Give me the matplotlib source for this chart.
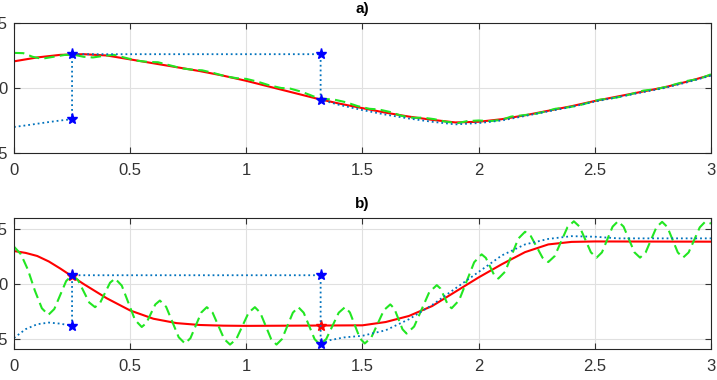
import numpy as np
import matplotlib.pyplot as plt

plt.rcParams['font.family'] = ['Liberation Sans', 'DejaVu Sans']

# ---- panel a) ----
a_x_ref = [0, 0.1, 0.2, 0.3, 0.4, 0.5, 0.6, 0.7, 0.8, 0.9, 1.0, 1.1, 1.2, 1.3, 1.4, 1.5,
           1.6, 1.7, 1.8, 1.9, 2.0, 2.1, 2.2, 2.3, 2.4, 2.5, 2.6, 2.7, 2.8, 2.9, 3.0]
a_y_ref = [0.205, 0.235, 0.255, 0.26, 0.25, 0.22, 0.19, 0.16, 0.13, 0.095, 0.055, 0.01,
           -0.035, -0.08, -0.12, -0.155, -0.19, -0.22, -0.245, -0.265, -0.26, -0.24, -0.21,
           -0.175, -0.14, -0.10, -0.065, -0.03, 0.005, 0.05, 0.10]

a_x_noisy = [0, 0.04, 0.08, 0.12, 0.17, 0.22, 0.26, 0.3, 0.34, 0.39, 0.43, 0.48, 0.53, 0.58,
             0.62, 0.67, 0.72, 0.77, 0.81, 0.86, 0.91, 0.96, 1.0, 1.05, 1.1, 1.15, 1.19, 1.24,
             1.29, 1.34, 1.38, 1.43, 1.48, 1.53, 1.57, 1.62, 1.67, 1.72, 1.76, 1.81, 1.86,
             1.91, 1.95, 2.0, 2.05, 2.1, 2.14, 2.19, 2.24, 2.29, 2.33, 2.38, 2.43, 2.48, 2.52,
             2.57, 2.62, 2.67, 2.71, 2.76, 2.81, 2.86, 2.9, 2.95, 3.0]
a_y_noisy = [0.27, 0.268, 0.24, 0.225, 0.24, 0.255, 0.255, 0.24, 0.235, 0.248, 0.255, 0.232,
             0.21, 0.2, 0.198, 0.175, 0.152, 0.14, 0.136, 0.115, 0.09, 0.075, 0.07, 0.048,
             0.02, 0.0, -0.005, -0.03, -0.065, -0.085, -0.09, -0.11, -0.14, -0.16, -0.165,
             -0.185, -0.215, -0.23, -0.228, -0.24, -0.26, -0.27, -0.255, -0.25, -0.255, -0.245,
             -0.22, -0.21, -0.2, -0.18, -0.16, -0.15, -0.135, -0.11, -0.09, -0.08, -0.065,
             -0.04, -0.02, -0.01, 0.01, 0.035, 0.055, 0.07, 0.105]

a_x_est = [0, 0.05, 0.1, 0.15, 0.2, 0.25, 0.25, 1.32, 1.32, 1.4, 1.5, 1.6, 1.7, 1.8, 1.9,
           2.0, 2.1, 2.2, 2.3, 2.4, 2.5, 2.6, 2.7, 2.8, 2.9, 3.0]
a_y_est = [-0.30, -0.288, -0.275, -0.262, -0.25, -0.24, 0.26, 0.26, -0.09, -0.13, -0.17,
           -0.205, -0.235, -0.26, -0.28, -0.27, -0.25, -0.215, -0.18, -0.145, -0.105,
           -0.07, -0.035, 0.0, 0.045, 0.095]
a_star_idx = [5, 6, 7, 8]

# ---- panel b) ----
b_x_ref = [0, 0.05, 0.1, 0.15, 0.2, 0.25, 0.3, 0.4, 0.5, 0.6, 0.7, 0.8, 0.9, 1.0, 1.5, 1.6,
           1.7, 1.8, 1.9, 2.0, 2.1, 2.2, 2.3, 2.4, 2.5, 3.0]
b_y_ref = [0.30, 0.283, 0.255, 0.205, 0.14, 0.07, 0.0, -0.13, -0.24, -0.315, -0.355, -0.372,
           -0.378, -0.38, -0.375, -0.345, -0.29, -0.20, -0.07, 0.06, 0.18, 0.29, 0.36, 0.383,
           0.387, 0.385]

b_x_noisy = [0, 0.03, 0.06, 0.09, 0.12, 0.148,
             0.1735, 0.199, 0.2245, 0.25,
             0.275, 0.2995, 0.324, 0.349,
             0.3705, 0.392, 0.4135, 0.435,
             0.464, 0.4925, 0.521, 0.55,
             0.5695, 0.589, 0.6085, 0.628,
             0.655, 0.682, 0.709, 0.736,
             0.7595, 0.783, 0.8065, 0.83,
             0.855, 0.88, 0.905, 0.93,
             0.957, 0.9835, 1.010, 1.037,
             1.060, 1.0835, 1.107, 1.13,
             1.1535, 1.177, 1.2005, 1.224,
             1.247, 1.2705, 1.294, 1.317,
             1.344, 1.371, 1.398, 1.425,
             1.446, 1.4675, 1.489, 1.51,
             1.5375, 1.565, 1.5925, 1.62,
             1.6375, 1.655, 1.6725, 1.69,
             1.7225, 1.755, 1.7875, 1.82,
             1.836, 1.852, 1.868, 1.884,
             1.916, 1.9485, 1.981, 2.013,
             2.031, 2.049, 2.067, 2.085,
             2.114, 2.1425, 2.171, 2.20,
             2.225, 2.25, 2.275, 2.30,
             2.3275, 2.355, 2.3825, 2.41,
             2.4345, 2.459, 2.4835, 2.508,
             2.531, 2.554, 2.577, 2.60,
             2.624, 2.6475, 2.671, 2.695,
             2.719, 2.7425, 2.766, 2.79,
             2.8125, 2.835, 2.8575, 2.88,
             2.904, 2.928, 2.952, 2.975, 3.0]
b_y_noisy = [0.34, 0.27, 0.13, -0.06, -0.22, -0.28,
             -0.227, -0.10, 0.027, 0.08,
             0.038, -0.065, -0.168, -0.21,
             -0.172, -0.08, 0.012, 0.05,
             -0.014, -0.17, -0.326, -0.39,
             -0.355, -0.27, -0.185, -0.15,
             -0.207, -0.345, -0.483, -0.54,
             -0.492, -0.375, -0.258, -0.21,
             -0.26, -0.38, -0.50, -0.55,
             -0.50, -0.38, -0.26, -0.21,
             -0.26, -0.38, -0.50, -0.55,
             -0.50, -0.38, -0.26, -0.21,
             -0.26, -0.38, -0.50, -0.55,
             -0.50, -0.38, -0.26, -0.21,
             -0.258, -0.375, -0.492, -0.54,
             -0.488, -0.363, -0.237, -0.185,
             -0.224, -0.318, -0.411, -0.45,
             -0.386, -0.23, -0.074, -0.01,
             -0.041, -0.115, -0.189, -0.22,
             -0.148, 0.025, 0.198, 0.27,
             0.238, 0.16, 0.082, 0.05,
             0.112, 0.263, 0.413, 0.475,
             0.435, 0.338, 0.24, 0.20,
             0.254, 0.385, 0.516, 0.57,
             0.522, 0.405, 0.288, 0.24,
             0.288, 0.405, 0.522, 0.57,
             0.522, 0.405, 0.288, 0.24,
             0.287, 0.403, 0.518, 0.565,
             0.518, 0.403, 0.287, 0.24,
             0.287, 0.40, 0.515, 0.565, 0.55]

b_x_est = [0, 0.05, 0.1, 0.15, 0.2, 0.25, 0.25, 1.32, 1.32, 1.36, 1.42, 1.5, 1.6, 1.7, 1.8,
           1.9, 2.0, 2.1, 2.2, 2.3, 2.4, 2.5, 2.6, 3.0]
b_y_est = [-0.49, -0.41, -0.365, -0.35, -0.36, -0.38, 0.08, 0.08, -0.545, -0.51, -0.485,
           -0.47, -0.42, -0.32, -0.19, -0.04, 0.11, 0.26, 0.36, 0.41, 0.435, 0.43, 0.415,
           0.415]
b_star_idx = [5, 6, 7, 8]
b_star_ref_x = [0.25, 1.32]
b_star_ref_y = [0.07, -0.38]

xticks = [0, 0.5, 1, 1.5, 2, 2.5, 3]
xticklabels = ['0', '0.5', '1', '1.5', '2', '2.5', '3']
yticks = [-0.5, 0, 0.5]
yticklabels = ['-0.5', '0', '0.5']

fig = plt.figure(figsize=(7.17, 3.80), dpi=100)
ax1 = fig.add_axes([0.0195, 0.5974, 0.972, 0.3421])
ax2 = fig.add_axes([0.0195, 0.0816, 0.972, 0.3447])

blue = '#0072BD'
green = '#22e622'

# a)
ax1.plot(a_x_ref, a_y_ref, color='red', lw=1.5)
ax1.plot(a_x_noisy, a_y_noisy, color=green, lw=1.5, ls=(0, (5, 2.5)))
ax1.plot(a_x_est, a_y_est, color=blue, lw=1.3, ls=':')
ax1.plot([a_x_est[i] for i in a_star_idx], [a_y_est[i] for i in a_star_idx],
         ls='none', marker='*', color='blue', ms=8)
ax1.set_ylim(-0.5, 0.5)
ax1.set_title('a)', fontsize=11, fontweight='bold', pad=7)

# b)
ax2.plot(b_x_ref, b_y_ref, color='red', lw=1.5)
ax2.plot(b_x_noisy, b_y_noisy, color=green, lw=1.5, ls=(0, (5, 2.5)))
ax2.plot(b_star_ref_x, b_star_ref_y, ls='none', marker='*', color='red', ms=8)
ax2.plot(b_x_est, b_y_est, color=blue, lw=1.3, ls=':')
ax2.plot([b_x_est[i] for i in b_star_idx], [b_y_est[i] for i in b_star_idx],
         ls='none', marker='*', color='blue', ms=8)
ax2.set_ylim(-0.59, 0.6)
ax2.set_title('b)', fontsize=11, fontweight='bold', pad=7)

for ax in (ax1, ax2):
    ax.set_xlim(0, 3)
    ax.set_xticks(xticks)
    ax.set_xticklabels(xticklabels)
    ax.set_yticks(yticks)
    ax.set_yticklabels(yticklabels)
    ax.grid(True, color='#e0e0e0', lw=0.8)
    ax.set_axisbelow(True)
    ax.tick_params(direction='in', top=True, right=True, length=4, width=0.8,
                   labelsize=12, colors='#333333')
    ax.tick_params(axis='y', pad=4.5)
    ax.tick_params(axis='x', pad=7.5)
    for s in ax.spines.values():
        s.set_color('#262626')
        s.set_linewidth(0.8)

fig.savefig('out.png', dpi=100)
